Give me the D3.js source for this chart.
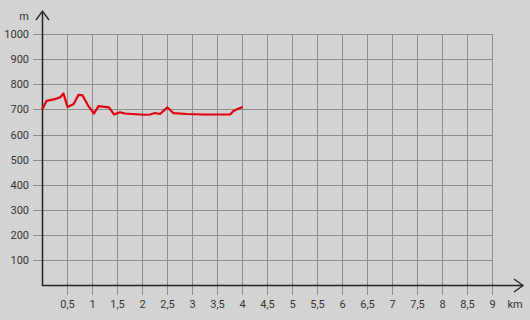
<!DOCTYPE html>
<html><head><meta charset="utf-8">
<script src="https://cdn.jsdelivr.net/npm/d3@7"></script>
<style>html,body{margin:0;padding:0;background:#d3d3d3;}svg{display:block;}</style>
</head><body>
<script>
const distances = [0.0,0.03,0.09,0.26,0.36,0.43,0.51,0.63,0.73,0.81,0.93,1.04,1.13,1.34,1.44,1.56,1.66,2.03,2.16,2.26,2.36,2.51,2.63,2.89,3.23,3.76,3.83,3.89,4.01];
const elevations = [700,710,734,741,748,763,710,721,758,756,713,684,713,708,680,689,684,679,680,686,682,708,685,682,680,680,694,700,710];
const xTicks = [0.5,1,1.5,2,2.5,3,3.5,4,4.5,5,5.5,6,6.5,7,7.5,8,8.5,9];
const yTicks = [100,200,300,400,500,600,700,800,900,1000];
const xUnit = "km", yUnit = "m";

const W = 530, H = 320;
const svg = d3.select("body").append("svg").attr("width", W).attr("height", H);
svg.append("rect").attr("width", W).attr("height", H).attr("fill", "#d3d3d3");

const x = d3.scaleLinear().domain([0, 9]).range([42, 492]);
const y = d3.scaleLinear().domain([0, 1000]).range([285.5, 34]);
const font = "Roboto, 'DejaVu Sans', sans-serif";

// horizontal grid
svg.append("g").selectAll("line").data(yTicks).join("line")
  .attr("x1", 33).attr("x2", x(9))
  .attr("y1", d => Math.round(y(d)) + 0.5).attr("y2", d => Math.round(y(d)) + 0.5)
  .attr("stroke", "#8c8c8c").attr("stroke-width", 1);
// vertical grid
svg.append("g").selectAll("line").data(xTicks).join("line")
  .attr("x1", d => Math.round(x(d)) + 0.5).attr("x2", d => Math.round(x(d)) + 0.5)
  .attr("y1", y(1000)).attr("y2", 295)
  .attr("stroke", "#8c8c8c").attr("stroke-width", 1);

// axes
svg.append("line").attr("x1", 42.5).attr("x2", 42.5).attr("y1", 286).attr("y2", 12)
  .attr("stroke", "#222").attr("stroke-width", 1.5);
svg.append("path").attr("d", "M36,20 L42.5,11 L49,20").attr("fill", "none").attr("stroke", "#222").attr("stroke-width", 1.3);
svg.append("line").attr("x1", 42).attr("x2", 522).attr("y1", 285.5).attr("y2", 285.5)
  .attr("stroke", "#222").attr("stroke-width", 1.5);
svg.append("path").attr("d", "M514,279 L523,285.5 L514,292").attr("fill", "none").attr("stroke", "#222").attr("stroke-width", 1.3);

// labels
svg.append("g").selectAll("text").data(yTicks).join("text")
  .attr("x", 29).attr("y", d => y(d) + 4).attr("text-anchor", "end")
  .attr("font-family", font).attr("font-size", 11).attr("fill", "#333").text(d => d);
svg.append("g").selectAll("text").data(xTicks).join("text")
  .attr("x", d => x(d) + 0.5).attr("y", 308).attr("text-anchor", "middle")
  .attr("font-family", font).attr("font-size", 11).attr("fill", "#333")
  .text(d => String(d).replace(".", ","));
svg.append("text").attr("x", 24).attr("y", 20).attr("text-anchor", "middle")
  .attr("font-family", font).attr("font-size", 11).attr("fill", "#333").text(yUnit);
svg.append("text").attr("x", 515).attr("y", 308).attr("text-anchor", "middle")
  .attr("font-family", font).attr("font-size", 11).attr("fill", "#333").text(xUnit);

// profile line
const data = distances.map((d, i) => [d, elevations[i]]);
svg.append("path").datum(data)
  .attr("d", d3.line().x(d => x(d[0])).y(d => y(d[1])))
  .attr("fill", "none").attr("stroke", "#e3000f").attr("stroke-width", 2.2)
  .attr("stroke-linejoin", "round");
</script>
</body></html>
